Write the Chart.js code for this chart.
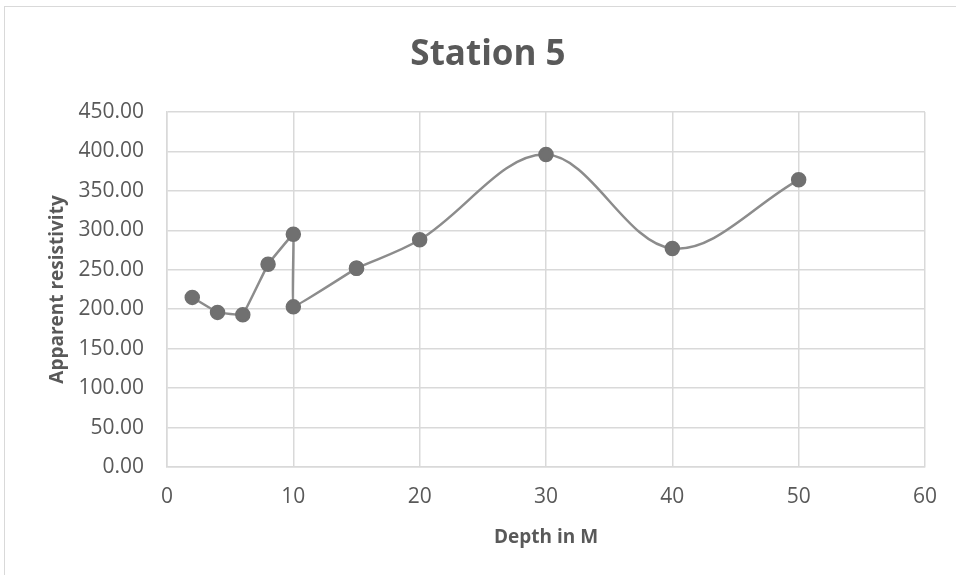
<!DOCTYPE html>
<html>
<head>
<meta charset="utf-8">
<script src="https://cdn.jsdelivr.net/npm/chart.js@4"></script>
<style>
  body { margin: 0; background: #fff; overflow: hidden; }
  #frame { position: absolute; left: 4px; top: 6px; width: 970px; height: 590px; border: 1px solid #d9d9d9; }
  #wrap { position: absolute; left: 0; top: 0; width: 956px; height: 575px; }
</style>
</head>
<body>
<div id="frame"></div>
<div id="wrap"><canvas id="myChart" width="956" height="575"></canvas></div>
<script>
        // Station 5 readings
        const depth = [2, 4, 6, 8, 10, 10, 15, 20, 30, 40, 50];
        const resistivity = [215, 196, 193, 257, 295, 203, 252, 288, 396, 277, 364];
        const xTicks = [0, 10, 20, 30, 40, 50, 60];
        const yTicks = [0, 50, 100, 150, 200, 250, 300, 350, 400, 450];

        const points = depth.map((d, i) => ({ x: d, y: resistivity[i] }));
        const textColor = '#595959';
        const gridColor = '#d9d9d9';

        // shallow part is nearly straight, deeper part is smoothed
        const series = (data, tension) => ({
            label: 'Station 5',
            data: data,
            showLine: true,
            tension: tension,
            borderColor: '#8c8c8c',
            borderWidth: 2.5,
            backgroundColor: '#707070',
            pointBorderColor: '#707070',
            pointRadius: 6.5,
            pointHoverRadius: 6.5
        });

        const ctx = document.getElementById('myChart').getContext('2d');
        new Chart(ctx, {
            type: 'scatter',
            data: {
                datasets: [
                    series(points.slice(0, 7), 0.05),
                    series(points.slice(6), 0.35)
                ]
            },
            options: {
                responsive: false,
                animation: false,
                layout: { padding: { left: 51, right: 31, top: 0, bottom: 0 } },
                plugins: {
                    legend: { display: false },
                    tooltip: { enabled: false },
                    title: {
                        display: true,
                        text: 'Station 5',
                        color: textColor,
                        font: { family: 'Open Sans', size: 35, weight: 'bold', lineHeight: 1.2 },
                        padding: { top: 34, bottom: 36 }
                    }
                },
                scales: {
                    x: {
                        type: 'linear',
                        min: xTicks[0],
                        max: xTicks[xTicks.length - 1],
                        afterFit: s => { s.height = 108; },
                        afterBuildTicks: s => { s.ticks = xTicks.map(v => ({ value: v })); },
                        ticks: { color: textColor, padding: 17, font: { family: 'Open Sans', size: 21 } },
                        grid: { color: gridColor, lineWidth: 1.5, drawTicks: false },
                        border: { color: gridColor, width: 1.5 },
                        title: {
                            display: true,
                            text: 'Depth in M',
                            color: textColor,
                            font: { family: 'Open Sans', size: 19, weight: 'bold', lineHeight: 1.2 },
                            padding: { top: 0, bottom: 26 }
                        }
                    },
                    y: {
                        min: yTicks[0],
                        max: yTicks[yTicks.length - 1],
                        afterFit: s => { s.width = 116; },
                        afterBuildTicks: s => { s.ticks = yTicks.map(v => ({ value: v })); },
                        ticks: {
                            color: textColor,
                            padding: 23,
                            font: { family: 'Open Sans', size: 21 },
                            callback: v => v.toFixed(2)
                        },
                        grid: { color: gridColor, lineWidth: 1.5, drawTicks: false },
                        border: { color: gridColor, width: 1.5 },
                        title: {
                            display: true,
                            text: 'Apparent resistivity',
                            color: textColor,
                            font: { family: 'Open Sans', size: 19, weight: 'bold', lineHeight: 1.2 },
                            padding: { top: -5, bottom: 0 }
                        }
                    }
                }
            }
        });
</script>
</body>
</html>
